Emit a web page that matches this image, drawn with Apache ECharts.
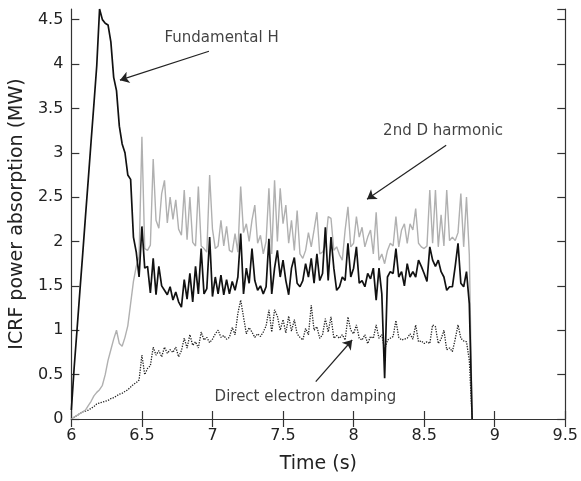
<!DOCTYPE html>
<html><head><meta charset="utf-8">
<script src="https://cdn.jsdelivr.net/npm/echarts@6/dist/echarts.min.js"></script>
<style>html,body{margin:0;padding:0;background:#fff}#c{width:581px;height:481px}</style>
</head><body><div id="c"></div>
<script>
// sampling grid: 6.00 s to 8.84 s, 0.02 s step (143 samples)
const time = Array.from({length: 143}, (_, i) => +(6 + i * 0.02).toFixed(2));

const fundamentalH = [
  0.1, 0.58, 1.0, 1.43, 1.85, 2.28, 2.7, 3.13, 3.55, 3.98,
  4.62, 4.5, 4.46, 4.44, 4.25, 3.85, 3.7, 3.3, 3.1, 3.0,
  2.75, 2.7, 2.05, 1.88, 1.6, 2.17, 1.7, 1.72, 1.42, 1.81,
  1.40, 1.72, 1.5, 1.45, 1.40, 1.49, 1.34, 1.43, 1.32, 1.26,
  1.57, 1.35, 1.64, 1.32, 1.72, 1.41, 1.92, 1.41, 1.47, 2.05,
  1.38, 1.6, 1.41, 1.62, 1.4, 1.57, 1.41, 1.55, 1.45, 1.6,
  2.09, 1.41, 1.7, 1.53, 1.92, 1.56, 1.45, 1.5, 1.41, 1.49,
  2.03, 1.41, 1.7, 1.9, 1.6, 1.79, 1.56, 1.4, 1.7, 1.82,
  1.53, 1.49, 1.56, 1.75, 1.6, 1.81, 1.53, 1.86, 1.56, 1.64,
  2.16, 1.56, 2.05, 1.7, 1.45, 1.49, 1.6, 1.56, 1.98, 1.6,
  1.7, 1.94, 1.53, 1.56, 1.49, 1.64, 1.58, 1.7, 1.34, 1.70,
  1.41, 0.46, 1.6, 1.66, 1.64, 1.92, 1.6, 1.66, 1.5, 1.75,
  1.6, 1.66, 1.6, 1.79, 1.72, 1.64, 1.55, 1.94, 1.79, 1.72,
  1.79, 1.66, 1.6, 1.45, 1.49, 1.49, 1.72, 1.98, 1.53, 1.49,
  1.66, 1.3, 0
];

const secondDHarmonic = [
  0, 0.02, 0.04, 0.06, 0.08, 0.1, 0.15, 0.2, 0.26, 0.3,
  0.33, 0.38, 0.5, 0.66, 0.78, 0.9, 1.0, 0.85, 0.82, 0.92,
  1.05, 1.3, 1.55, 1.72, 1.83, 3.18, 1.92, 1.9, 1.96, 2.93,
  2.24, 2.15, 2.54, 2.69, 2.21, 2.5, 2.25, 2.47, 2.14, 2.07,
  2.58, 2.02, 2.5, 1.99, 1.95, 2.62, 1.95, 1.92, 1.88, 2.75,
  2.14, 1.92, 1.95, 2.24, 1.95, 2.17, 1.9, 1.88, 2.09, 1.88,
  2.62, 2.1, 2.2, 2.0, 2.24, 2.41, 1.98, 2.07, 1.86, 2.0,
  2.6, 1.86, 2.69, 2.0, 2.6, 2.2, 2.41, 1.98, 2.24, 1.9,
  2.35, 1.86, 1.81, 1.9, 2.1, 1.94, 2.13, 2.33, 1.86, 1.88,
  1.95, 2.28, 2.26, 1.9, 1.94, 1.85, 1.79, 2.13, 2.39, 1.94,
  1.98, 2.28, 2.05, 2.16, 1.94, 2.05, 2.13, 1.86, 2.33, 1.79,
  1.86, 1.75, 1.9, 1.98, 1.95, 2.28, 1.94, 2.13, 2.2, 1.98,
  2.2, 2.13, 2.37, 1.98, 1.94, 1.92, 1.95, 2.58, 1.98, 2.58,
  1.94, 2.3, 1.95, 2.58, 2.01, 2.05, 2.01, 2.1, 2.54, 1.94,
  2.5, 1.85, 0
];

const directElectron = [
  0, 0.02, 0.04, 0.06, 0.08, 0.09, 0.1, 0.12, 0.14, 0.17,
  0.18, 0.19, 0.2, 0.21, 0.23, 0.24, 0.26, 0.28, 0.29, 0.31,
  0.33, 0.36, 0.39, 0.41, 0.44, 0.72, 0.5, 0.57, 0.6, 0.81,
  0.72, 0.77, 0.7, 0.81, 0.74, 0.78, 0.75, 0.81, 0.7, 0.77,
  0.91, 0.8, 0.95, 0.83, 0.87, 0.8, 0.98, 0.89, 0.92, 0.86,
  0.9, 0.96, 1.0, 0.92, 0.94, 0.9, 0.92, 1.03, 0.95, 1.19,
  1.34, 1.15, 0.96, 1.03, 0.98, 0.92, 0.96, 0.93, 0.98, 1.05,
  1.23, 0.98, 1.23, 1.16, 1.0, 1.12, 0.97, 1.16, 0.99, 1.12,
  0.96, 0.92, 0.89, 1.02, 0.95, 1.28, 1.0, 1.04, 0.91, 0.95,
  1.13, 0.98, 1.15, 0.91, 0.94, 0.91, 0.95, 0.89, 1.15, 1.0,
  0.96, 1.06, 0.91, 0.89, 0.95, 0.85, 0.93, 0.91, 1.06, 0.91,
  0.95, 0.78, 0.89, 0.91, 0.93, 1.11, 0.92, 0.89, 0.9, 0.91,
  0.96, 0.9, 1.06, 0.87, 0.88, 0.85, 0.87, 0.85, 1.06, 1.04,
  0.85, 0.9, 1.0, 0.78, 0.8, 0.76, 0.9, 1.06, 0.91, 0.88,
  0.87, 0.66, 0
];

const xTicks = {min: 6, max: 9.5, interval: 0.5};
const yTicks = {min: 0, max: 4.62, interval: 0.5};

// annotations: label text, label anchor [t, v], arrow from [t, v] to [t, v]
const annotations = [
  {text: 'Fundamental H', at: [6.66, 4.29], from: [6.975, 4.144], to: [6.344, 3.818]},
  {text: '2nd D harmonic', at: [8.209, 3.243], from: [8.656, 3.086], to: [8.095, 2.477]},
  {text: 'Direct electron damping', at: [7.015, 0.248], from: [7.732, 0.42], to: [7.99, 0.89]}
];

const FONT = 'DejaVu Sans';
const pairs = arr => time.map((t, i) => [t, arr[i]]);

const axisCommon = {
  axisLine: {show: true, lineStyle: {color: '#333', width: 1.2}},
  axisTick: {show: true, inside: true, length: 8, lineStyle: {color: '#333', width: 1.2}},
  splitLine: {show: false}
};

const chart = echarts.init(document.getElementById('c'), null, {renderer: 'canvas'});
chart.setOption({
  animation: false,
  backgroundColor: '#fff',
  grid: {left: 68, right: 14, top: 9, bottom: 62, containLabel: false},
  xAxis: [
    Object.assign({type: 'value', position: 'bottom', min: xTicks.min, max: xTicks.max, interval: xTicks.interval,
      name: 'Time (s)', nameLocation: 'middle', nameGap: 36,
      nameTextStyle: {fontFamily: FONT, fontSize: 19, color: '#222'},
      axisLabel: {fontFamily: FONT, fontSize: 16, color: '#222', margin: 9}}, axisCommon),
    Object.assign({type: 'value', position: 'top', min: xTicks.min, max: xTicks.max, interval: xTicks.interval,
      axisLabel: {show: false}}, axisCommon)
  ],
  yAxis: [
    Object.assign({type: 'value', position: 'left', min: yTicks.min, max: yTicks.max, interval: yTicks.interval,
      name: 'ICRF power absorption (MW)', nameLocation: 'middle', nameGap: 40,
      nameTextStyle: {fontFamily: FONT, fontSize: 19, color: '#222'},
      axisLabel: {fontFamily: FONT, fontSize: 16, color: '#222', margin: 8, showMaxLabel: false}}, axisCommon),
    Object.assign({type: 'value', position: 'right', min: yTicks.min, max: yTicks.max, interval: yTicks.interval,
      axisLabel: {show: false}}, axisCommon)
  ],
  series: [
    {type: 'line', name: 'Direct electron damping', data: pairs(directElectron), showSymbol: false, symbol: 'none',
      lineStyle: {color: '#222', width: 1.3, type: 'dotted'}, z: 2},
    {type: 'line', name: '2nd D harmonic', data: pairs(secondDHarmonic), showSymbol: false, symbol: 'none',
      lineStyle: {color: '#b0b0b0', width: 1.4}, z: 3},
    {type: 'line', name: 'Fundamental H', data: pairs(fundamentalH), showSymbol: false, symbol: 'none',
      lineStyle: {color: '#111', width: 1.7}, z: 4},
    {type: 'lines', coordinateSystem: 'cartesian2d', z: 5,
      data: annotations.map(a => ({coords: [a.from, a.to]})),
      symbol: ['none', 'arrow'], symbolSize: 9,
      lineStyle: {color: '#222', width: 1.2, opacity: 1, curveness: 0}},
    {type: 'scatter', z: 6, symbolSize: 0, silent: true,
      data: annotations.map(a => ({name: a.text, value: a.at})),
      label: {show: true, position: 'right', distance: 0, formatter: p => p.name,
        fontFamily: FONT, fontSize: 15, color: '#111'}}
  ]
});
</script></body></html>
